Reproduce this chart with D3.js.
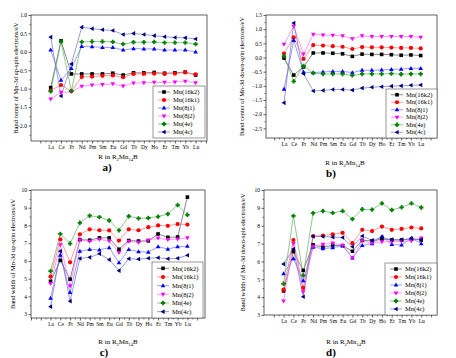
<!DOCTYPE html>
<html>
<head>
<meta charset="utf-8">
<script src="https://cdn.jsdelivr.net/npm/d3@7"></script>
<style>
  body { margin: 0; background: #fff; }
  text { font-family: "Liberation Serif", "DejaVu Serif", serif; fill: #000; }
</style>
</head>
<body>
<script>
var cats = ["La", "Ce", "Pr", "Nd", "Pm", "Sm", "Eu", "Gd", "Tb", "Dy", "Ho", "Er", "Tm", "Yb", "Lu"];
var seriesNames = ["Mn(16k2)", "Mn(16k1)", "Mn(8j1)", "Mn(8j2)", "Mn(4e)", "Mn(4c)"];

// a) band center, up-spin
var centerUp = [
  [-0.97, 0.30, -0.60, -0.60, -0.60, -0.60, -0.58, -0.63, -0.57, -0.57, -0.56, -0.58, -0.57, -0.55, -0.63],
  [-1.05, -0.90, -1.07, -0.68, -0.67, -0.65, -0.64, -0.69, -0.60, -0.60, -0.59, -0.60, -0.59, -0.56, -0.61],
  [0.05, -0.77, -0.45, 0.15, 0.14, 0.12, 0.12, 0.05, 0.09, 0.08, 0.08, 0.05, 0.05, 0.05, 0.00],
  [-1.28, -1.10, -1.08, -0.94, -0.90, -0.89, -0.87, -0.93, -0.85, -0.84, -0.83, -0.83, -0.82, -0.80, -0.84],
  [-1.07, 0.28, -1.06, 0.27, 0.28, 0.28, 0.27, 0.21, 0.26, 0.26, 0.27, 0.25, 0.25, 0.25, 0.21],
  [0.40, -1.20, -0.33, 0.67, 0.63, 0.60, 0.58, 0.47, 0.50, 0.47, 0.44, 0.41, 0.39, 0.38, 0.35]
];
// b) band center, down-spin
var centerDown = [
  [-0.02, -0.62, -0.33, 0.16, 0.16, 0.15, 0.13, 0.04, 0.12, 0.11, 0.11, 0.10, 0.08, 0.09, 0.07],
  [0.14, 0.71, -0.05, 0.44, 0.42, 0.40, 0.38, 0.30, 0.37, 0.36, 0.36, 0.35, 0.34, 0.34, 0.32],
  [-1.12, 0.60, -0.52, -0.53, -0.51, -0.49, -0.49, -0.53, -0.45, -0.45, -0.44, -0.42, -0.41, -0.38, -0.38],
  [0.46, 1.10, 0.12, 0.82, 0.79, 0.78, 0.76, 0.66, 0.76, 0.74, 0.74, 0.74, 0.74, 0.74, 0.71],
  [0.05, -0.84, -0.30, -0.55, -0.58, -0.58, -0.58, -0.63, -0.58, -0.58, -0.58, -0.57, -0.59, -0.58, -0.58],
  [-1.60, 1.22, -0.57, -1.18, -1.16, -1.13, -1.13, -1.15, -1.08, -1.05, -1.03, -1.01, -1.00, -0.98, -0.97]
];
// c) band width, up-spin
var widthUp = [
  [4.85, 6.03, 4.97, 7.20, 7.17, 7.30, 7.30, 6.66, 7.15, 7.12, 7.13, 7.52, 7.33, 7.35, 9.60],
  [5.12, 7.22, 5.92, 7.50, 7.78, 7.73, 7.72, 7.15, 7.78, 7.73, 7.90, 8.00, 7.98, 8.08, 8.05],
  [3.90, 6.33, 4.22, 6.55, 6.65, 6.62, 6.75, 5.90, 6.65, 6.52, 6.50, 6.80, 6.67, 6.80, 6.83],
  [4.72, 6.90, 4.60, 7.18, 7.10, 7.22, 7.12, 6.47, 7.10, 7.05, 7.18, 7.28, 7.20, 7.23, 7.30],
  [5.42, 7.52, 6.98, 8.15, 8.55, 8.47, 8.28, 7.72, 8.52, 8.40, 8.42, 8.50, 8.65, 9.15, 8.60],
  [3.42, 6.55, 3.73, 6.14, 6.20, 6.40, 6.07, 5.45, 6.12, 6.10, 6.15, 6.18, 6.12, 6.15, 6.32]
];
// d) band width, down-spin
var widthDown = [
  [4.35, 6.55, 5.50, 6.93, 6.80, 6.90, 6.88, 6.57, 7.18, 7.15, 7.25, 7.20, 7.20, 7.25, 7.20],
  [4.42, 7.20, 4.52, 7.42, 7.45, 7.52, 7.60, 7.02, 7.77, 7.70, 7.95, 7.77, 7.82, 7.90, 7.85],
  [5.32, 6.15, 4.92, 6.80, 6.72, 6.77, 6.88, 6.20, 6.90, 7.00, 7.40, 6.95, 6.92, 7.30, 7.00],
  [3.78, 7.00, 4.30, 6.85, 6.95, 7.02, 6.90, 6.20, 7.15, 7.02, 7.10, 7.10, 7.12, 7.15, 7.30],
  [4.75, 8.55, 5.22, 8.70, 8.82, 8.72, 8.82, 8.37, 8.92, 8.90, 9.25, 8.88, 9.03, 9.25, 9.02],
  [5.85, 6.70, 4.02, 7.40, 7.40, 7.36, 7.34, 6.82, 7.42, 7.18, 7.35, 7.22, 7.22, 7.28, 7.22]
];

var centerTicks = [-2.5, -2.0, -1.5, -1.0, -0.5, 0.0, 0.5, 1.0, 1.5];
var widthTicks = [3, 4, 5, 6, 7, 8, 9, 10];

var colors = ["#000000", "#ff0000", "#0000ff", "#ff00ff", "#008000", "#000080"];
var lineColors = ["#555555", "#ff7070", "#7070ff", "#ff70ff", "#60b060", "#7070c0"];

var svg = d3.select("body").append("svg")
    .attr("width", 456)
    .attr("height", 358);

// marker shapes
function marker(i) {
  var s = 3.6;
  if (i == 0) return "M" + (-s/2) + "," + (-s/2) + "h" + s + "v" + s + "h" + (-s) + "Z";
  if (i == 1) return d3.symbol(d3.symbolCircle, 14)();
  if (i == 2) return "M0,-2.4L2.3,1.6L-2.3,1.6Z";
  if (i == 3) return "M0,2.4L2.3,-1.6L-2.3,-1.6Z";
  if (i == 4) return "M-0.9,-2.2h1.8v1.3h1.3v1.8h-1.3v1.3h-1.8v-1.3h-1.3v-1.8h1.3Z";
  return "M-2.4,0L1.6,-2.3L1.6,2.3Z";
}

var panels = [
  {data: centerUp, l: 31, r: 207, t: 15, b: 141, xd: [-0.9, 16.1], yd: [-2.42, 1.0],
   ticks: centerTicks, fmt: d3.format(".1f"), ylab: "Band center of Mn-3d up-spin electrons/eV", ylx: 18,
   leg: {x: 153, y: 86, w: 52, h: 52}, tx: 118, ty: 159, letter: "a)", lx: 107, ly: 171},
  {data: centerDown, l: 266, r: 437, t: 15, b: 138, xd: [-0.84, 16.67], yd: [-2.84, 1.5],
   ticks: centerTicks, fmt: d3.format(".1f"), ylab: "Band center of Mn-3d down-spin electrons/eV", ylx: 244,
   leg: {x: 386, y: 89, w: 51, h: 49}, tx: 345, ty: 165, letter: "b)", lx: 331, ly: 177},
  {data: widthUp, l: 31, r: 205, t: 190, b: 318, xd: [-1.0, 16.8], yd: [2.78, 10],
   ticks: widthTicks, fmt: d3.format("d"), ylab: "Band width of Mn-3d up-spin electrons/eV", ylx: 15,
   leg: {x: 152, y: 262, w: 51, h: 56}, tx: 118, ty: 344, letter: "c)", lx: 104, ly: 356},
  {data: widthDown, l: 264, r: 437, t: 190, b: 315, xd: [-0.99, 16.6], yd: [3, 10],
   ticks: widthTicks, fmt: d3.format("d"), ylab: "Band width of Mn-3d down-spin electrons/eV", ylx: 245,
   leg: {x: 385, y: 263, w: 52, h: 52}, tx: 346, ty: 344, letter: "d)", lx: 331, ly: 356}
];

panels.forEach(function(p) {
  var x = d3.scaleLinear().domain(p.xd).range([p.l, p.r]);
  var y = d3.scaleLinear().domain(p.yd).range([p.b, p.t]);
  var g = svg.append("g");

  // frame
  g.append("rect")
      .attr("x", p.l).attr("y", p.t)
      .attr("width", p.r - p.l).attr("height", p.b - p.t)
      .attr("fill", "none").attr("stroke", "#222").attr("stroke-width", 0.7);

  // x axis: majors at integers, labels at categories
  var xMajor = d3.range(Math.ceil(p.xd[0]), Math.floor(p.xd[1]) + 1);
  var xMinor = d3.range(Math.ceil(p.xd[0]), Math.floor(p.xd[1])).map(function(d) { return d + 0.5; });
  var xAxis = g.append("g")
      .attr("transform", "translate(0," + p.b + ")")
      .call(d3.axisBottom(x).tickValues(xMajor).tickSize(2.5).tickPadding(2)
        .tickFormat(function(d) { return (d >= 1 && d <= cats.length) ? cats[d - 1] : ""; }));
  xAxis.select(".domain").remove();
  xAxis.selectAll("text").style("font-size", "5.5px").style("font-family", "Liberation Serif");
  xAxis.selectAll("line").attr("stroke-width", 0.6);
  g.append("g")
      .attr("transform", "translate(0," + p.b + ")")
      .call(d3.axisBottom(x).tickValues(xMinor).tickSize(1.5).tickFormat(""))
      .call(function(s) { s.select(".domain").remove(); s.selectAll("line").attr("stroke-width", 0.5); });

  // y axis
  var yt = p.ticks.filter(function(d) { return d >= p.yd[0] - 1e-9 && d <= p.yd[1] + 1e-9; });
  var step = p.ticks[1] - p.ticks[0];
  var ym = p.ticks.map(function(d) { return d + step / 2; })
      .filter(function(d) { return d > p.yd[0] && d < p.yd[1]; });
  var yAxis = g.append("g")
      .attr("transform", "translate(" + p.l + ",0)")
      .call(d3.axisLeft(y).tickValues(yt).tickSize(2.5).tickPadding(1.5).tickFormat(p.fmt));
  yAxis.select(".domain").remove();
  yAxis.selectAll("text").style("font-size", "5.5px").style("font-family", "Liberation Serif");
  yAxis.selectAll("line").attr("stroke-width", 0.6);
  g.append("g")
      .attr("transform", "translate(" + p.l + ",0)")
      .call(d3.axisLeft(y).tickValues(ym).tickSize(1.5).tickFormat(""))
      .call(function(s) { s.select(".domain").remove(); s.selectAll("line").attr("stroke-width", 0.5); });

  // y title
  g.append("text")
      .attr("transform", "translate(" + p.ylx + "," + ((p.t + p.b) / 2) + ") rotate(-90)")
      .attr("text-anchor", "middle")
      .style("font-size", "6.4px")
      .text(p.ylab);

  // x title
  var xt = g.append("text")
      .attr("x", p.tx).attr("y", p.ty)
      .attr("text-anchor", "middle")
      .style("font-size", "7px");
  xt.append("tspan").text("R in R");
  xt.append("tspan").attr("dy", 1.5).style("font-size", "4.5px").text("2");
  xt.append("tspan").attr("dy", -1.5).text("Mn");
  xt.append("tspan").attr("dy", 1.5).style("font-size", "4.5px").text("14");
  xt.append("tspan").attr("dy", -1.5).text("B");

  g.append("text")
      .attr("x", p.lx).attr("y", p.ly)
      .attr("text-anchor", "middle")
      .style("font-size", "11px")
      .style("font-weight", "bold")
      .text(p.letter);

  // series
  var line = d3.line()
      .x(function(d, i) { return x(i + 1); })
      .y(function(d) { return y(d); });

  p.data.forEach(function(vals, si) {
    g.append("path")
        .datum(vals)
        .attr("d", line)
        .attr("fill", "none")
        .attr("stroke", lineColors[si])
        .attr("stroke-width", 0.7);
  });
  p.data.forEach(function(vals, si) {
    g.selectAll(null)
        .data(vals)
      .enter()
      .append("path")
        .attr("d", marker(si))
        .attr("transform", function(d, i) { return "translate(" + x(i + 1) + "," + y(d) + ")"; })
        .attr("fill", colors[si]);
  });

  // legend
  var lg = g.append("g").attr("transform", "translate(" + p.leg.x + "," + p.leg.y + ")");
  lg.append("rect")
      .attr("width", p.leg.w).attr("height", p.leg.h)
      .attr("fill", "#fff").attr("stroke", "#555").attr("stroke-width", 0.6);
  var rowH = (p.leg.h - 4) / seriesNames.length;
  seriesNames.forEach(function(name, si) {
    var cy = 2 + rowH * (si + 0.5);
    lg.append("line")
        .attr("x1", 5).attr("x2", 17).attr("y1", cy).attr("y2", cy)
        .attr("stroke", lineColors[si]).attr("stroke-width", 0.7);
    lg.append("path")
        .attr("d", marker(si))
        .attr("transform", "translate(11," + cy + ")")
        .attr("fill", colors[si]);
    lg.append("text")
        .attr("x", 20).attr("y", cy + 2.2)
        .style("font-size", "6.5px")
        .text(name);
  });
});
</script>
</body>
</html>
